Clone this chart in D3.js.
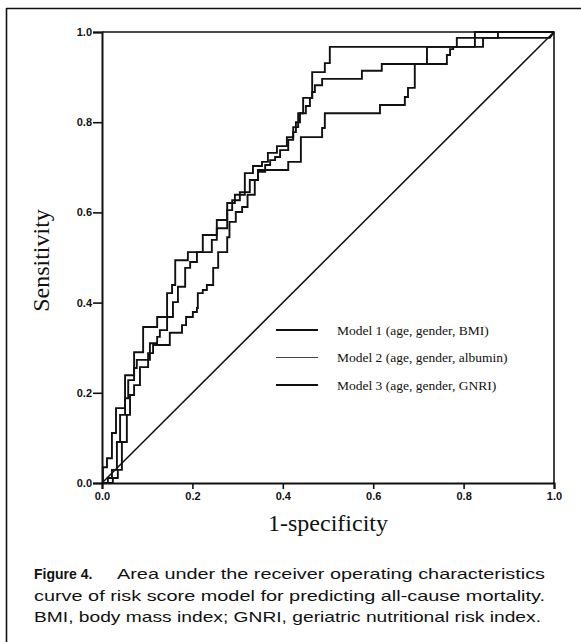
<!DOCTYPE html>
<html>
<head>
<meta charset="utf-8">
<script src="https://cdn.jsdelivr.net/npm/d3@7/dist/d3.min.js"></script>
<style>
  body { margin: 0; background: #fff; }
  svg { display: block; }
</style>
</head>
<body>
<svg id="chart" width="581" height="642"></svg>
<script>
// tick values for both axes
const xTicks = [0, 0.2, 0.4, 0.6, 0.8, 1.0];
const yTicks = [0, 0.2, 0.4, 0.6, 0.8, 1.0];

const legendLabels = [
  'Model 1 (age, gender, BMI)',
  'Model 2 (age, gender, albumin)',
  'Model 3 (age, gender, GNRI)',
];

// ROC points [1-specificity, sensitivity]
const model1 = [
  [0, 0], [0.002, 0], [0.002, 0.035], [0.011, 0.035], [0.011, 0.055], [0.022, 0.055],
  [0.022, 0.111], [0.031, 0.111], [0.031, 0.166], [0.051, 0.166], [0.051, 0.239],
  [0.071, 0.239], [0.071, 0.290], [0.091, 0.290], [0.091, 0.346], [0.122, 0.346],
  [0.122, 0.368], [0.144, 0.368], [0.144, 0.421], [0.155, 0.421], [0.155, 0.439],
  [0.162, 0.439], [0.162, 0.494], [0.190, 0.494], [0.190, 0.512], [0.223, 0.512],
  [0.223, 0.550], [0.254, 0.550], [0.254, 0.583], [0.277, 0.583], [0.277, 0.621],
  [0.294, 0.621], [0.294, 0.639], [0.316, 0.639], [0.316, 0.687], [0.334, 0.687],
  [0.334, 0.703], [0.354, 0.703], [0.354, 0.712], [0.367, 0.712], [0.367, 0.732],
  [0.387, 0.732], [0.387, 0.747], [0.409, 0.747], [0.409, 0.767], [0.423, 0.767],
  [0.423, 0.789], [0.434, 0.789], [0.434, 0.820], [0.445, 0.820], [0.445, 0.854],
  [0.465, 0.854], [0.465, 0.911], [0.493, 0.911], [0.493, 0.931], [0.504, 0.931],
  [0.504, 0.967], [0.825, 0.967], [0.825, 1], [1, 1],
];

const model2 = [
  [0, 0], [0.013, 0], [0.013, 0.011], [0.022, 0.011], [0.022, 0.029], [0.033, 0.029],
  [0.033, 0.091], [0.040, 0.091], [0.040, 0.151], [0.051, 0.151], [0.051, 0.188],
  [0.058, 0.188], [0.058, 0.228], [0.071, 0.228], [0.071, 0.255], [0.077, 0.255],
  [0.077, 0.273], [0.106, 0.273], [0.106, 0.310], [0.122, 0.310], [0.122, 0.324],
  [0.128, 0.324], [0.128, 0.339], [0.144, 0.339], [0.144, 0.368], [0.157, 0.368],
  [0.157, 0.401], [0.168, 0.401], [0.168, 0.435], [0.184, 0.435], [0.184, 0.477],
  [0.195, 0.477], [0.195, 0.490], [0.210, 0.490], [0.210, 0.512], [0.243, 0.512],
  [0.243, 0.539], [0.254, 0.539], [0.254, 0.565], [0.277, 0.565], [0.277, 0.605],
  [0.288, 0.605], [0.288, 0.627], [0.305, 0.627], [0.305, 0.645], [0.327, 0.645],
  [0.327, 0.672], [0.345, 0.672], [0.345, 0.690], [0.361, 0.690], [0.361, 0.705],
  [0.372, 0.705], [0.372, 0.716], [0.383, 0.716], [0.383, 0.723], [0.394, 0.723],
  [0.394, 0.738], [0.412, 0.738], [0.412, 0.761], [0.423, 0.761], [0.423, 0.778],
  [0.429, 0.778], [0.429, 0.800], [0.438, 0.800], [0.438, 0.820], [0.451, 0.820],
  [0.451, 0.836], [0.460, 0.836], [0.460, 0.854], [0.465, 0.854], [0.465, 0.867],
  [0.471, 0.867], [0.471, 0.882], [0.487, 0.882], [0.487, 0.896], [0.575, 0.896],
  [0.575, 0.914], [0.619, 0.914], [0.619, 0.929], [0.719, 0.929], [0.719, 0.967],
  [0.785, 0.967], [0.785, 0.987], [0.876, 0.987], [0.876, 1], [1, 1],
];

const model3 = [
  [0, 0], [0.024, 0], [0.024, 0.011], [0.035, 0.011], [0.035, 0.029], [0.044, 0.029],
  [0.044, 0.091], [0.055, 0.091], [0.055, 0.151], [0.062, 0.151], [0.062, 0.195],
  [0.071, 0.195], [0.071, 0.217], [0.084, 0.217], [0.084, 0.257], [0.102, 0.257],
  [0.102, 0.288], [0.113, 0.288], [0.113, 0.306], [0.150, 0.306], [0.150, 0.333],
  [0.177, 0.333], [0.177, 0.350], [0.186, 0.350], [0.186, 0.368], [0.201, 0.368],
  [0.201, 0.379], [0.210, 0.379], [0.210, 0.388], [0.212, 0.388], [0.212, 0.421],
  [0.223, 0.421], [0.223, 0.428], [0.232, 0.428], [0.232, 0.439], [0.246, 0.439],
  [0.246, 0.477], [0.257, 0.477], [0.257, 0.512], [0.277, 0.512], [0.277, 0.545],
  [0.282, 0.545], [0.282, 0.579], [0.296, 0.579], [0.296, 0.601], [0.310, 0.601],
  [0.310, 0.612], [0.322, 0.612], [0.322, 0.639], [0.338, 0.639], [0.338, 0.672],
  [0.345, 0.672], [0.345, 0.694], [0.412, 0.694], [0.412, 0.712], [0.440, 0.712],
  [0.440, 0.767], [0.487, 0.767], [0.487, 0.787], [0.493, 0.787], [0.493, 0.820],
  [0.615, 0.820], [0.615, 0.838], [0.670, 0.838], [0.670, 0.856], [0.677, 0.856],
  [0.677, 0.876], [0.692, 0.876], [0.692, 0.929], [0.763, 0.929], [0.763, 0.949],
  [0.770, 0.949], [0.770, 0.962], [0.777, 0.962], [0.777, 0.967], [0.843, 0.967],
  [0.843, 0.987], [0.991, 0.987], [1, 1],
];

const referenceLine = [[0, 0], [1, 1]];

const captionLines = [
  'Area under the receiver operating characteristics',
  'curve of risk score model for predicting all-cause mortality.',
  'BMI, body mass index; GNRI, geriatric nutritional risk index.',
];

const svg = d3.select('#chart');
const x = d3.scaleLinear().domain([0, 1]).range([102, 554]);
const y = d3.scaleLinear().domain([0, 1]).range([483, 32]);

const serif = '"Liberation Serif", "Times New Roman", serif';
const sans = '"Liberation Sans", Arial, sans-serif';

// figure frame (top and left edge of the scanned box)
svg.append('line').attr('x1', 6).attr('x2', 581).attr('y1', 8.5).attr('y2', 8.5)
  .attr('stroke', '#111').attr('stroke-width', 1.6);
svg.append('line').attr('x1', 6.5).attr('x2', 6.5).attr('y1', 8).attr('y2', 642)
  .attr('stroke', '#111').attr('stroke-width', 1.6);

// plot box, top and right
svg.append('path')
  .attr('d', `M${x(0)},${y(1)}H${x(1)}V${y(0)}`)
  .attr('fill', 'none').attr('stroke', '#111').attr('stroke-width', 1.6);

const axisX = svg.append('g').attr('transform', `translate(0,${y(0)})`)
  .call(d3.axisBottom(x).tickValues(xTicks).tickFormat(d3.format('.1f')).tickSize(6).tickPadding(3));
const axisY = svg.append('g').attr('transform', `translate(${x(0)},0)`)
  .call(d3.axisLeft(y).tickValues(yTicks).tickFormat(d3.format('.1f')).tickSize(9).tickPadding(1));

[axisX, axisY].forEach((axis) => {
  axis.select('.domain').attr('stroke', '#111').attr('stroke-width', 2);
  axis.selectAll('.tick line').attr('stroke', '#111').attr('stroke-width', 1.6);
  axis.selectAll('.tick text')
    .attr('fill', '#111')
    .style('font-family', sans)
    .style('font-size', '11px')
    .style('font-weight', 700);
});

const line = d3.line().x((d) => x(d[0])).y((d) => y(d[1]));

svg.append('path').datum(referenceLine)
  .attr('d', line).attr('fill', 'none').attr('stroke', '#111').attr('stroke-width', 1.5);

[model1, model2, model3].forEach((points) => {
  svg.append('path').datum(points)
    .attr('d', line)
    .attr('fill', 'none')
    .attr('stroke', '#111')
    .attr('stroke-width', 1.9)
    .attr('stroke-linejoin', 'miter');
});

// legend
const legendWidths = [2, 1.2, 2];
const legend = svg.append('g').attr('transform', 'translate(276,330)');
legendLabels.forEach((label, i) => {
  const row = legend.append('g').attr('transform', `translate(0,${i * 27.5})`);
  row.append('line').attr('x1', 0).attr('x2', 42)
    .attr('stroke', i === 1 ? '#444' : '#111').attr('stroke-width', legendWidths[i]);
  row.append('text').attr('x', 61).attr('y', 4.5)
    .style('font-family', serif).style('font-size', '13.5px').attr('fill', '#111')
    .text(label);
});

// axis titles
svg.append('text')
  .attr('x', (x(0) + x(1)) / 2).attr('y', 531)
  .attr('text-anchor', 'middle')
  .style('font-family', serif).style('font-size', '24px').attr('fill', '#111')
  .text('1-specificity');
svg.append('text')
  .attr('transform', `translate(49,${(y(0) + y(1)) / 2 + 3}) rotate(-90)`)
  .attr('text-anchor', 'middle')
  .style('font-family', serif).style('font-size', '24px').attr('fill', '#111')
  .text('Sensitivity');

// caption
svg.append('text').attr('x', 34).attr('y', 579)
  .style('font-family', sans).style('font-size', '14px').style('font-weight', 700)
  .attr('fill', '#111').text('Figure 4.');
const captionX = [117, 34, 34];
const captionLen = [428, 511, 507];
captionLines.forEach((txt, i) => {
  svg.append('text')
    .attr('x', captionX[i]).attr('y', 579 + i * 21.5)
    .attr('textLength', captionLen[i]).attr('lengthAdjust', 'spacingAndGlyphs')
    .style('font-family', sans).style('font-size', '15px')
    .attr('fill', '#111').text(txt);
});
</script>
</body>
</html>
